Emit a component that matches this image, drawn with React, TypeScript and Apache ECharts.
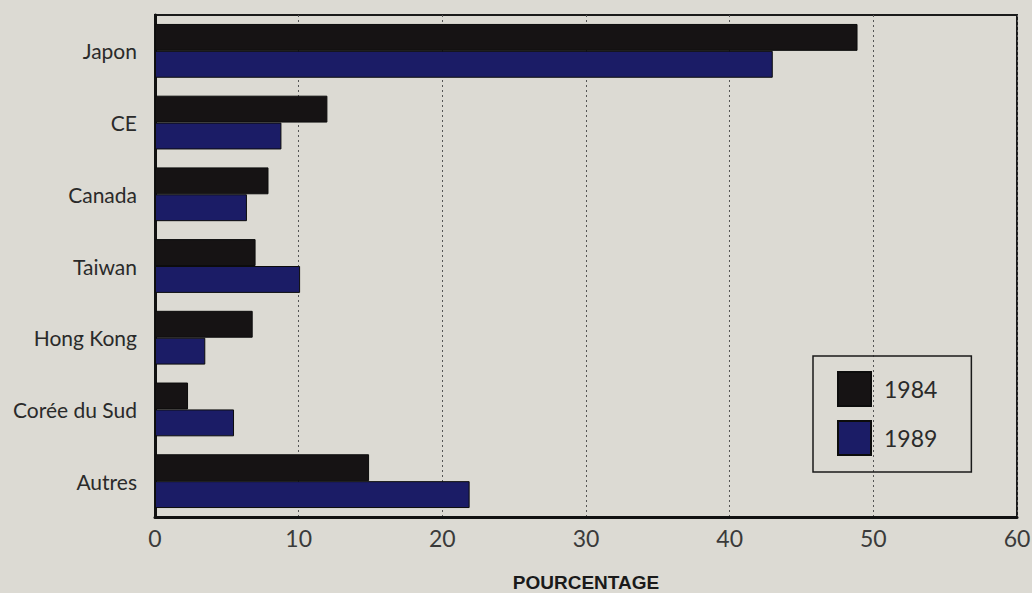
import React, { useEffect, useRef } from "react";
import * as echarts from "echarts";

// Regions and their share (%) for each year
const regions = ["Japon", "CE", "Canada", "Taiwan", "Hong Kong", "Corée du Sud", "Autres"];
const share1984 = [48.9, 12.0, 7.9, 7.0, 6.8, 2.3, 14.9];
const share1989 = [43.0, 8.8, 6.4, 10.1, 3.5, 5.5, 21.9];
const xTicks = [0, 10, 20, 30, 40, 50, 60];
const xTitle = "POURCENTAGE";

const FONT = "Lato, 'Open Sans', sans-serif";

export default function App() {
  const ref = useRef<HTMLDivElement>(null);

  useEffect(() => {
    if (!ref.current) return;
    const chart = echarts.init(ref.current, undefined, { renderer: "svg" });
    chart.setOption({
      animation: false,
      backgroundColor: "#dcdad3",
      textStyle: { fontFamily: FONT },
      grid: {
        left: 155,
        right: 15,
        top: 15,
        bottom: 76,
        outerBoundsMode: "none",
        containLabel: false,
        show: true,
        borderColor: "#1a1a1a",
        borderWidth: 2,
      },
      legend: {
        orient: "vertical",
        left: 813,
        top: 356,
        padding: [15, 34, 16, 24],
        itemWidth: 33,
        itemHeight: 34,
        itemGap: 13,
        borderColor: "#1a1a1a",
        borderWidth: 1.5,
        icon: "rect",
        textStyle: { fontSize: 23, color: "#2a2a2a", fontFamily: FONT, padding: [0, 0, 0, 8] },
        data: ["1984", "1989"],
      },
      xAxis: {
        type: "value",
        min: xTicks[0],
        max: xTicks[xTicks.length - 1],
        interval: 10,
        name: xTitle,
        nameLocation: "middle",
        nameGap: 56,
        nameTextStyle: {
          fontSize: 19,
          fontWeight: "bold",
          color: "#1a1a1a",
          fontFamily: "'Liberation Sans Narrow', 'Liberation Sans', sans-serif",
        },
        axisLine: { show: true, lineStyle: { color: "#111", width: 3 } },
        axisTick: { show: false },
        axisLabel: { fontSize: 23, color: "#3a3a3a", margin: 9 },
        splitLine: { show: true, lineStyle: { color: "#555", width: 1, type: [2, 3] } },
      },
      yAxis: {
        type: "category",
        data: regions,
        inverse: true,
        axisLine: { show: true, lineStyle: { color: "#111", width: 3 } },
        axisTick: { show: false },
        axisLabel: { fontSize: 21, color: "#2a2a2a", margin: 18 },
      },
      series: [
        {
          name: "1984",
          type: "bar",
          data: share1984,
          barGap: "0%",
          barCategoryGap: "25%",
          itemStyle: { color: "#161314", borderColor: "#0c0c0c", borderWidth: 1 },
        },
        {
          name: "1989",
          type: "bar",
          data: share1989,
          barGap: "0%",
          barCategoryGap: "25%",
          itemStyle: { color: "#1b1c66", borderColor: "#0c0c0c", borderWidth: 1 },
        },
      ],
    });
    return () => chart.dispose();
  }, []);

  return (
    <div
      ref={ref}
      style={{ position: "fixed", left: 0, top: 0, width: 1032, height: 593 }}
    />
  );
}
